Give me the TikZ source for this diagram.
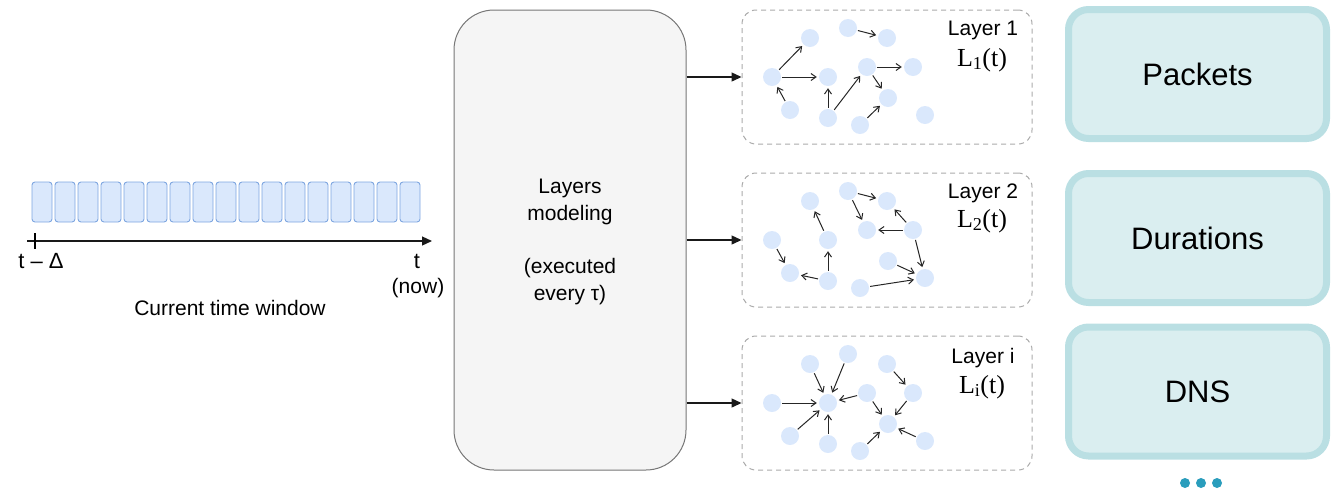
\documentclass[tikz,border=0pt]{standalone}
\usepackage{fontspec}
\setmainfont{Liberation Sans}
\newfontfamily\serifL{Liberation Serif}
\usetikzlibrary{arrows.meta}
\definecolor{cellfill}{HTML}{DAE8FC}
\definecolor{celldraw}{HTML}{7EA6E0}
\definecolor{modfill}{HTML}{F5F5F5}
\definecolor{moddraw}{HTML}{777777}
\definecolor{dashgray}{HTML}{AAAAAA}
\definecolor{nodeblue}{HTML}{DAE8FC}
\definecolor{tealfill}{HTML}{DAEEF0}
\definecolor{tealdraw}{HTML}{BADFE3}
\definecolor{dotblue}{HTML}{2A9DBC}
\tikzset{
  cell/.style={draw=celldraw, fill=cellfill, line width=0.9pt, rounded corners=3pt, minimum width=20pt, minimum height=40pt, inner sep=0pt},
  nd/.style={circle, fill=nodeblue, minimum size=18pt, inner sep=0pt},
  ed/.style={-{Straight Barb[length=5pt,width=7pt]}, line width=1pt, draw=black!85, shorten >=2pt, shorten <=1pt},
  bigarrow/.style={-{Triangle[length=10pt,width=9pt]}, line width=1.4pt, draw=black!90},
  laybox/.style={draw=dashgray, dash pattern=on 5pt off 4pt, line width=1pt, rounded corners=14pt, minimum width=290pt, minimum height=134pt, inner sep=0pt},
  catbox/.style={draw=tealdraw, fill=tealfill, line width=7pt, rounded corners=20pt, minimum width=258pt, minimum height=129pt, inner sep=0pt, font=\fontsize{31}{36}\selectfont},
  txt/.style={font=\fontsize{21}{25}\selectfont, inner sep=0pt},
  lay/.style={font=\fontsize{21}{25}\selectfont, inner sep=0pt, align=center},
}
\begin{document}
\begin{tikzpicture}[x=1pt,y=-1pt]
\useasboundingbox (0,0) rectangle (1333,491);
% time window cells
\foreach \i in {0,...,16}{
  \node[cell] (tb\i) at ({42+23*\i},202) {};
}
% axis
\coordinate (ax0) at (27,241);
\coordinate (ax1) at (432,241);
\coordinate (tk0) at (35,233);
\coordinate (tk1) at (35,249);
\draw[bigarrow, line width=1.2pt] (ax0) -- (ax1);
\draw[line width=1.2pt] (tk0) -- (tk1);
\node[txt, font=\fontsize{22}{26}\selectfont] (tmd) at (41,261) {t – Δ};
\node[txt, font=\fontsize{22}{26}\selectfont] (tnow) at (417,261) {t};
\node[txt] (now) at (418,288) {(now)};
\node[txt] (ctw) at (230,308) {Current time window};
% modeling box
\node[draw=moddraw, fill=modfill, line width=1pt, rounded corners=40pt, minimum width=232pt, minimum height=460pt, inner sep=0pt] (model) at (570,240) {};
\node[txt] (m1) at (570,188) {Layers};
\node[txt] (m2) at (570,215) {modeling};
\node[txt] (m3) at (570,268) {(executed};
\node[txt] (m4) at (570,295) {every τ)};
% layer boxes
\node[laybox] (lay1) at (887,77) {};
\node[laybox] (lay2) at (887,240) {};
\node[laybox] (lay3) at (887,403) {};
\draw[bigarrow] (model.east |- lay1.west) -- (lay1.west);
\draw[bigarrow] (model.east |- lay2.west) -- (lay2.west);
\draw[bigarrow] (model.east |- lay3.west) -- (lay3.west);
% layer labels
\node[lay] (l1t) at (983,30) {Layer 1};
\node[lay, font=\serifL\fontsize{26}{30}\selectfont] (l1f) at (982,60) {L\textsubscript{1}(t)};
\node[lay] (l2t) at (983,193) {Layer 2};
\node[lay, font=\serifL\fontsize{26}{30}\selectfont] (l2f) at (982,221) {L\textsubscript{2}(t)};
\node[lay] (l3t) at (983,358) {Layer i};
\node[lay, font=\serifL\fontsize{26}{30}\selectfont] (l3f) at (982,387) {L\textsubscript{i}(t)};
% graph nodes
\foreach \L/\dy in {1/0,2/163,3/326}{
  \begin{scope}[shift={(0,\dy)}]
  \foreach \n/\x/\y in {a/772/77, b/810/38, c/848/28, d/887/38, e/828/77, f/867/67, g/913/67, h/790/110, i/828/118, j/888/98, k/860/125, m/925/115}{
    \node[nd] (\L\n) at (\x,\y) {};
  }
  \end{scope}
}
% layer 1 edges
\foreach \s/\t in {a/b, a/e, h/a, i/e, i/f, c/d, f/g, f/j, k/j}{
  \draw[ed] (1\s) -- (1\t);
}
% layer 2 edges
\foreach \s/\t in {a/h, i/h, i/e, e/b, c/d, c/f, g/f, g/d, g/m, j/m, k/m}{
  \draw[ed] (2\s) -- (2\t);
}
% layer i edges
\foreach \s/\t in {a/e, b/e, c/e, f/e, h/e, i/e, d/g, g/j, f/j, k/j, m/j}{
  \draw[ed] (3\s) -- (3\t);
}
% category boxes
\node[catbox] (pk) at (1197.5,74) {Packets};
\node[catbox] (du) at (1197.5,238) {Durations};
\node[catbox] (dn) at (1197.5,391.5) {DNS};
\foreach \k/\x in {1/1185,2/1201,3/1217}{
  \node[circle, fill=dotblue, minimum size=10pt, inner sep=0pt] (dot\k) at (\x,483) {};
}
\end{tikzpicture}
\end{document}
